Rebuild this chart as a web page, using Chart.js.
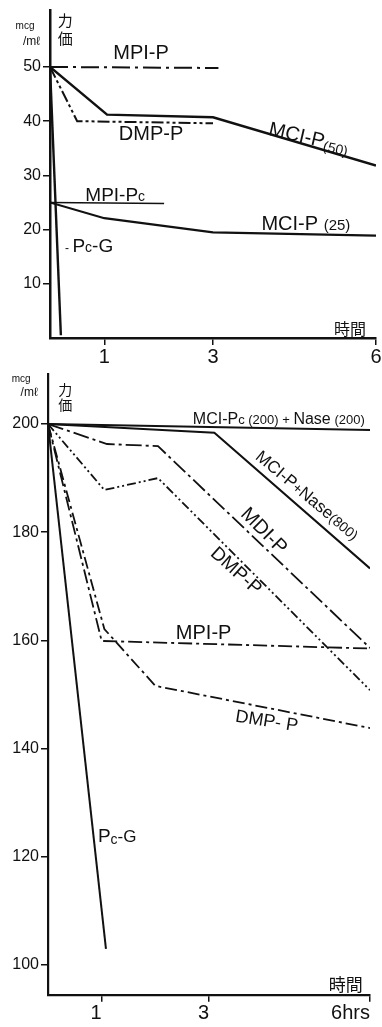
<!DOCTYPE html>
<html><head><meta charset="utf-8">
<script src="https://cdn.jsdelivr.net/npm/chart.js@4"></script>
<style>
html,body{margin:0;padding:0;background:#fff;}
body{width:382px;height:1027px;position:relative;overflow:hidden;}
canvas{position:absolute;left:0;}
#c1{top:0;} #c2{top:370px;}
</style></head><body>
<canvas id="c1" width="382" height="370"></canvas>
<canvas id="c2" width="382" height="657"></canvas>
<script>
// ---------- data: upper chart (力価 mcg/ml vs 時間 hrs) ----------
const topXTicks = [1, 3, 6];
const topYTicks = [10, 20, 30, 40, 50];
const topMpiP_t = [0, 3.1];            const topMpiP_v = [50, 49.8];
const topDmpP_t = [0, 0.5, 3];         const topDmpP_v = [50, 40, 39.6];
const topMciP50_t = [0, 1.05, 3, 6];   const topMciP50_v = [50, 41.2, 40.7, 31.8];
const topMpiPc_t = [0, 2.1];           const topMpiPc_v = [25, 24.8];
const topMciP25_t = [0, 1, 3, 6];      const topMciP25_v = [25, 22.1, 19.5, 18.9];
const topPcG_t = [0, 0.2];             const topPcG_v = [50, 0.5];

// ---------- data: lower chart ----------
const botXTicks = [1, 3, 6];
const botYTicks = [100, 120, 140, 160, 180, 200];
const botMciPcNase_t = [0, 6];              const botMciPcNase_v = [200, 198.9];
const botMciPNase_t = [0, 3.1, 6];          const botMciPNase_v = [200, 198.4, 173.3];
const botMdiP_t = [0, 1.1, 2.05, 6];        const botMdiP_v = [200, 196.3, 195.9, 158.6];
const botDmpPa_t = [0, 1.05, 2.05, 6];      const botDmpPa_v = [200, 187.8, 190.0, 150.8];
const botMpiP_t = [0, 1.0, 6];              const botMpiP_v = [200, 159.9, 158.5];
const botDmpPb_t = [0, 1.05, 2.0, 6];       const botDmpPb_v = [200, 162.1, 151.6, 143.8];
const botPcG_t = [0, 1.08];                 const botPcG_v = [200, 103];

const INK = '#111';
const NUM_FONT = "'Liberation Sans', Arial, sans-serif";
const LBL_FONT = "'Liberation Sans', Arial, sans-serif";
const CJK_FONT = "'Noto Sans CJK JP', 'Noto Sans CJK SC', sans-serif";

function pts(t, v) { return t.map((x, i) => ({x: x, y: v[i]})); }
function ds(t, v, width, dash) {
  return { data: pts(t, v), borderColor: INK, borderWidth: width, borderDash: dash || [],
           pointRadius: 0, tension: 0, fill: false };
}

// rich text helper: segs = [[text, size, dy, font]]
function drawRich(ctx, x, y, segs, rot) {
  ctx.save();
  ctx.translate(x, y);
  ctx.rotate((rot || 0) * Math.PI / 180);
  ctx.fillStyle = INK;
  ctx.textAlign = 'left';
  ctx.textBaseline = 'alphabetic';
  let total = 0;
  const widths = segs.map(s => { ctx.font = s[1] + 'px ' + (s[3] || LBL_FONT); const w = ctx.measureText(s[0]).width; total += w; return w; });
  const main = Math.max(...segs.map(s => s[1]));
  const base = main * 0.36;
  let cx = -total / 2;
  segs.forEach((s, i) => {
    ctx.font = s[1] + 'px ' + (s[3] || LBL_FONT);
    ctx.fillText(s[0], cx, base + (s[2] || 0));
    cx += widths[i];
  });
  ctx.restore();
}

function notesPlugin(notes) {
  return {
    id: 'notes',
    afterDatasetsDraw(chart) {
      const ctx = chart.ctx, xs = chart.scales.x, ys = chart.scales.y;
      notes.forEach(n => {
        drawRich(ctx, xs.getPixelForValue(n.t), ys.getPixelForValue(n.v), n.segs, n.rot);
      });
    }
  };
}

function axes(xTicks, yTicks, xmin, xmax, ymin, ymax, yWidth, xHeight, xAlign, xCb, bw) {
  const grid = { display: true, drawOnChartArea: false, drawTicks: true, tickLength: 7, color: INK, lineWidth: 1.5 };
  return {
    x: {
      type: 'linear', min: xmin, max: xmax,
      afterBuildTicks: s => { s.ticks = xTicks.map(v => ({value: v})); },
      afterFit: s => { s.height = xHeight; s.paddingLeft = 0; s.paddingRight = 0; },
      grid: grid, border: { display: true, color: INK, width: bw },
      ticks: { color: INK, font: { family: NUM_FONT, size: 20 }, padding: 0, maxRotation: 0, autoSkip: false,
               align: xAlign, callback: xCb }
    },
    y: {
      type: 'linear', min: ymin, max: ymax,
      afterBuildTicks: s => { s.ticks = yTicks.map(v => ({value: v})); },
      afterFit: s => { s.width = yWidth; s.paddingTop = 0; s.paddingBottom = 0; },
      grid: grid, border: { display: true, color: INK, width: bw },
      ticks: { color: INK, font: { family: NUM_FONT, size: 16 }, padding: 2, autoSkip: false }
    }
  };
}

// ---------- upper chart ----------
const topNotes = [
  { t: -0.46, v: 57.6, segs: [['mcg', 10]] },
  { t: -0.34, v: 54.9, segs: [['/mℓ', 12]] },
  { t: 0.28, v: 58.5, segs: [['力', 15, 0, CJK_FONT]] },
  { t: 0.28, v: 55.2, segs: [['価', 15, 0, CJK_FONT]] },
  { t: 1.675, v: 52.8, segs: [['MPI-P', 20]] },
  { t: 1.86, v: 37.8, segs: [['DMP-P', 20]] },
  { t: 4.77, v: 37.1, segs: [['MCI-P', 20], ['(50)', 14, 3]], rot: 13 },
  { t: 1.2, v: 26.6, segs: [['MPI-P', 19], ['c', 14]] },
  { t: 4.71, v: 21.2, segs: [['MCI-P ', 20], ['(25)', 15]] },
  { t: 0.72, v: 17.2, segs: [['- ', 12], ['P', 19], ['c', 14], ['-G', 19]] },
  { t: 5.52, v: 1.7, segs: [['時間', 16, 0, CJK_FONT]] }
];

new Chart(document.getElementById('c1'), {
  type: 'line',
  data: { datasets: [
    ds(topMpiP_t, topMpiP_v, 2, [18, 5, 3, 5]),
    ds(topDmpP_t, topDmpP_v, 2, [12, 3, 3, 3, 3, 3]),
    ds(topMciP50_t, topMciP50_v, 2.5),
    ds(topMpiPc_t, topMpiPc_v, 1.6),
    ds(topMciP25_t, topMciP25_v, 2.2),
    ds(topPcG_t, topPcG_v, 2.4)
  ]},
  options: {
    responsive: false, animation: false, devicePixelRatio: 1,
    layout: { padding: { left: 0, right: 6, top: 10, bottom: 0 } },
    plugins: { legend: { display: false }, tooltip: { enabled: false } },
    scales: axes(topXTicks, topYTicks, 0, 6, 0, 60.5, 50, 32, 'center', v => String(v), 2.5)
  },
  plugins: [notesPlugin(topNotes)]
});

// ---------- lower chart ----------
const botNotes = [
  { t: -0.5, v: 208.5, segs: [['mcg', 10]] },
  { t: -0.35, v: 205.9, segs: [['/mℓ', 12]] },
  { t: 0.32, v: 206.3, segs: [['力', 14, 0, CJK_FONT]] },
  { t: 0.32, v: 203.6, segs: [['価', 14, 0, CJK_FONT]] },
  { t: 4.3, v: 201.1, segs: [['MCI-P', 16], ['c', 13], [' (200) + ', 13], ['Nase', 16], [' (200)', 13]] },
  { t: 4.84, v: 186.9, segs: [['MCI-P', 17], ['+', 14], ['Nase', 17], ['(800)', 14]], rot: 40 },
  { t: 4.04, v: 180.4, segs: [['MDI-P', 20]], rot: 45 },
  { t: 3.52, v: 173.0, segs: [['DMP-P', 19]], rot: 42 },
  { t: 2.9, v: 161.6, segs: [['MPI-P', 20]] },
  { t: 4.08, v: 145.3, segs: [['DMP- P', 18]], rot: 9 },
  { t: 1.29, v: 124.0, segs: [['P', 19], ['c', 14, 2], ['-G', 17]] },
  { t: 5.55, v: 96.3, segs: [['時間', 17, 0, CJK_FONT]] }
];

new Chart(document.getElementById('c2'), {
  type: 'line',
  data: { datasets: [
    ds(botMciPcNase_t, botMciPcNase_v, 2),
    ds(botMciPNase_t, botMciPNase_v, 2),
    ds(botMdiP_t, botMdiP_v, 1.8, [16, 4, 3, 4]),
    ds(botDmpPa_t, botDmpPa_v, 1.8, [9, 3, 2, 3, 2, 3]),
    ds(botMpiP_t, botMpiP_v, 1.8, [14, 4, 3, 4]),
    ds(botDmpPb_t, botDmpPb_v, 1.8, [12, 4, 3, 4]),
    ds(botPcG_t, botPcG_v, 2)
  ]},
  options: {
    responsive: false, animation: false, devicePixelRatio: 1,
    layout: { padding: { left: 0, right: 12, top: 4.2, bottom: 0 } },
    plugins: { legend: { display: false }, tooltip: { enabled: false } },
    scales: axes(botXTicks, botYTicks, 0, 6, 94.5, 209.2, 48, 32.2, 'end', v => (v === 6 ? '6hrs' : String(v)), 2.2)
  },
  plugins: [notesPlugin(botNotes)]
});
</script>
</body></html>
